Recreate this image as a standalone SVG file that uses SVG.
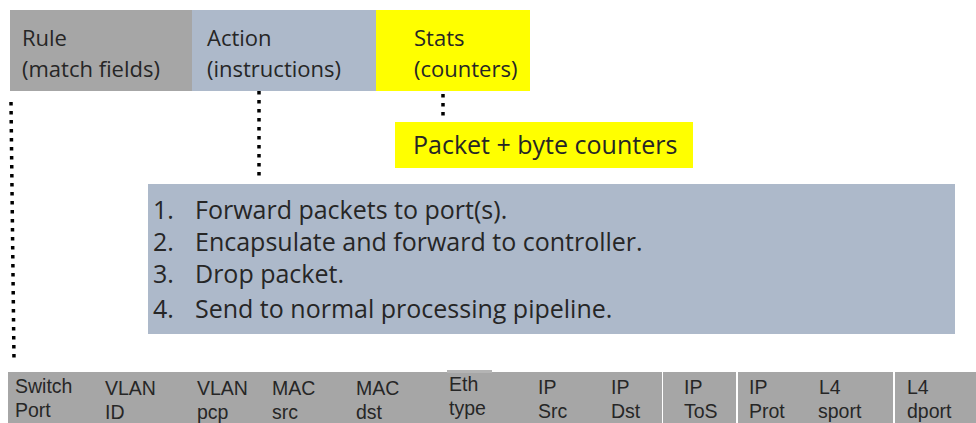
<svg xmlns="http://www.w3.org/2000/svg" width="976" height="423" viewBox="0 0 976 423">
<style>
text{font-family:"Open Sans","Liberation Sans",sans-serif;fill:#262626}
.h{font-size:22px}
.p{font-size:25px}
.l{font-size:25px}
.f{font-family:"Liberation Sans",Arial,sans-serif;font-size:19.5px}
.dot{stroke:#000;stroke-width:3.5;stroke-dasharray:3.5 5.5;fill:none}
.gray{fill:#a6a6a6}
.blue{fill:#adb9ca}
.yel{fill:#ffff00}
</style>
<rect width="976" height="423" fill="#fff"/>
<g id="rule">
<rect class="gray" x="10" y="10" width="182" height="81"/>
<text class="h" x="22" y="46">Rule</text>
<text class="h" x="22" y="77">(match fields)</text>
</g>
<g id="action">
<rect class="blue" x="192" y="10" width="184" height="81"/>
<text class="h" x="207" y="46">Action</text>
<text class="h" x="207" y="77">(instructions)</text>
</g>
<g id="stats">
<rect class="yel" x="376" y="10" width="154" height="81"/>
<text class="h" x="414" y="46">Stats</text>
<text class="h" x="414" y="77">(counters)</text>
</g>
<g id="counters">
<rect class="yel" x="395" y="122" width="298" height="46"/>
<text class="p" x="413" y="154">Packet + byte counters</text>
</g>
<g id="instructions">
<rect class="blue" x="148" y="184" width="807" height="150"/>
<text class="l" x="153" y="219">1.</text><text class="l" x="195" y="219">Forward packets to port(s).</text>
<text class="l" x="153" y="251">2.</text><text class="l" x="195" y="251">Encapsulate and forward to controller.</text>
<text class="l" x="153" y="283">3.</text><text class="l" x="195" y="283">Drop packet.</text>
<text class="l" x="153" y="318">4.</text><text class="l" x="195" y="318">Send to normal processing pipeline.</text>
</g>
<g id="fields">
<rect class="gray" x="8" y="372" width="654" height="51"/>
<rect fill="#b4b4b4" x="447" y="370" width="45" height="3"/>
<rect class="gray" x="663" y="372" width="73" height="51"/>
<rect class="gray" x="738" y="372" width="155" height="51"/>
<rect class="gray" x="895" y="372" width="81" height="51"/>
<text class="f" x="15" y="393">Switch</text><text class="f" x="15" y="417">Port</text>
<text class="f" x="105" y="395">VLAN</text><text class="f" x="105" y="419">ID</text>
<text class="f" x="197" y="395">VLAN</text><text class="f" x="197" y="419">pcp</text>
<text class="f" x="272" y="395">MAC</text><text class="f" x="272" y="419">src</text>
<text class="f" x="356" y="395">MAC</text><text class="f" x="356" y="419">dst</text>
<text class="f" x="449" y="391">Eth</text><text class="f" x="449" y="415">type</text>
<text class="f" x="538" y="394">IP</text><text class="f" x="538" y="418">Src</text>
<text class="f" x="611" y="394">IP</text><text class="f" x="611" y="418">Dst</text>
<text class="f" x="684" y="394">IP</text><text class="f" x="684" y="418">ToS</text>
<text class="f" x="749" y="394">IP</text><text class="f" x="749" y="418">Prot</text>
<text class="f" x="819" y="394">L4</text><text class="f" x="818" y="418">sport</text>
<text class="f" x="907" y="394">L4</text><text class="f" x="907" y="418">dport</text>
</g>
<g id="connectors">
<line class="dot" x1="11" y1="102" x2="14" y2="360"/>
<line class="dot" x1="259" y1="91" x2="259" y2="180"/>
<line class="dot" x1="443" y1="94" x2="443" y2="120"/>
</g>
</svg>
